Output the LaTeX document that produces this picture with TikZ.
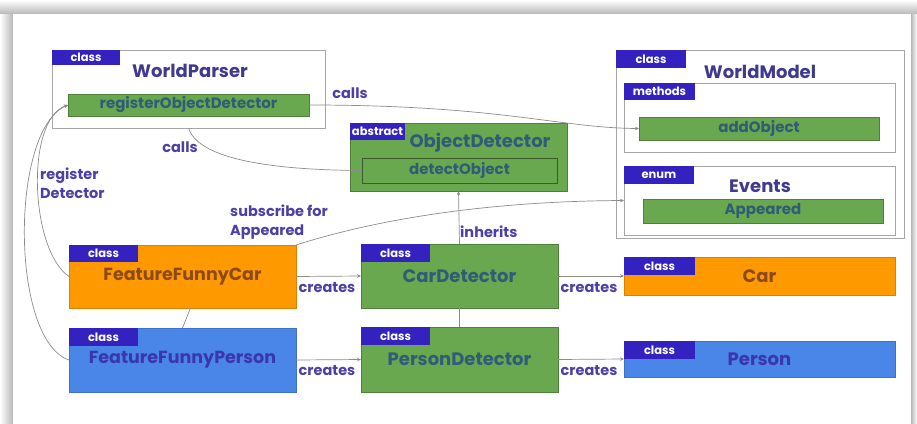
\documentclass[tikz,border=0pt]{standalone}
\usepackage{fontspec}
\setmainfont{Poppins}
\usepackage{tikz}
\usetikzlibrary{arrows.meta,positioning}

\definecolor{tagblue}{HTML}{3322C0}
\definecolor{ink}{HTML}{3F3A8E}
\definecolor{lblink}{HTML}{4B40A6}
\definecolor{grn}{HTML}{6AA84F}
\definecolor{grnink}{HTML}{2F5C78}
\definecolor{org}{HTML}{FF9900}
\definecolor{orgink}{HTML}{8C4A1A}
\definecolor{blu}{HTML}{4A86E8}
\definecolor{bluink}{HTML}{3A36B0}

\begin{document}
\begin{tikzpicture}[x=1pt,y=-1pt,
    box/.style={rectangle,inner sep=0pt,outer sep=0pt},
    outerbox/.style={box,draw=black!35,line width=0.8pt},
    greenbox/.style={box,fill=grn,draw=grn!75!black,text=grnink,font=\fontsize{15}{17}\selectfont\bfseries},
    orangebox/.style={box,fill=org,draw=org!85!black,text=orgink,font=\fontsize{17.5}{20}\selectfont\bfseries},
    bluebox/.style={box,fill=blu,draw=blu!85!black,text=bluink,font=\fontsize{17.5}{20}\selectfont\bfseries},
    tagbox/.style={box,anchor=north west,fill=tagblue,text=white,minimum width=69pt,minimum height=17pt,font=\fontsize{11.5}{13}\selectfont\bfseries},
    titletext/.style={text=ink,font=\fontsize{18}{21}\selectfont\bfseries},
    lbl/.style={text=lblink,font=\fontsize{14.5}{19}\selectfont\bfseries,align=left,inner sep=0pt},
    conn/.style={draw=black!45,line width=0.7pt},
    arr/.style={conn,-{Stealth[length=4pt,width=3.5pt]}}]
  % card with its shadow
  \useasboundingbox (0,0) rectangle (917,423);
  \fill[white] (0,0) rectangle (917,423);
  \shade[top color=white,bottom color=black!28] (0,0) rectangle (917,14);
  \shade[left color=white,right color=black!28] (0,14) rectangle (13,423);
  \shade[left color=black!28,right color=white] (911,14) rectangle (917,423);
  \fill[white] (13,14) rectangle (911,423);

  % WorldParser
  \node[outerbox,minimum width=273pt,minimum height=78pt] (wp) at (188.5,89) {};
  \node[tagbox,minimum width=68pt,minimum height=15pt] (wptag) at (wp.north west) {class};
  \node[titletext] (wptitle) at (190,71) {WorldParser};
  \node[greenbox,minimum width=241pt,minimum height=22pt] (reg) at (188.5,105) {registerObjectDetector};

  % ObjectDetector
  \node[greenbox,minimum width=217pt,minimum height=68pt] (od) at (458.5,157) {};
  \node[tagbox,minimum width=55pt] (odtag) at (od.north west) {abstract};
  \node[titletext,text=grnink] (odtitle) at (480,143) {ObjectDetector};
  \node[greenbox,draw=grn!55!black,minimum width=195pt,minimum height=25pt] (detect) at (459.5,170.5) {detectObject};

  % WorldModel
  \node[outerbox,minimum width=288pt,minimum height=188pt] (wm) at (760,144) {};
  \node[tagbox,minimum width=70pt,minimum height=18pt] (wmtag) at (wm.north west) {class};
  \node[titletext] (wmtitle) at (760,72) {WorldModel};
  \node[outerbox,minimum width=271pt,minimum height=69pt] (meth) at (759.5,117.5) {};
  \node[tagbox,minimum width=71pt] (methtag) at (meth.north west) {methods};
  \node[greenbox,minimum width=240pt,minimum height=23pt] (add) at (759,128.5) {addObject};
  \node[outerbox,minimum width=271pt,minimum height=69pt] (ev) at (759.5,200.5) {};
  \node[tagbox,minimum width=70pt,minimum height=18pt] (evtag) at (ev.north west) {enum};
  \node[titletext] (evtitle) at (760,186) {Events};
  \node[greenbox,minimum width=240pt,minimum height=24pt] (appeared) at (763,211) {Appeared};

  % features
  \node[orangebox,minimum width=227pt,minimum height=63pt] (ffc) at (182.5,276.5) {FeatureFunnyCar};
  \node[tagbox] (ffctag) at (ffc.north west) {class};
  \node[bluebox,minimum width=227pt,minimum height=64pt] (ffp) at (182.5,360) {FeatureFunnyPerson};
  \node[tagbox,minimum height=18pt] (ffptag) at (ffp.north west) {class};

  % detectors
  \node[greenbox,font=\fontsize{18}{21}\selectfont\bfseries,minimum width=197pt,minimum height=64pt] (cd) at (459.5,276) {CarDetector};
  \node[tagbox,minimum height=18pt] (cdtag) at (cd.north west) {class};
  \node[greenbox,font=\fontsize{18}{21}\selectfont\bfseries,minimum width=197pt,minimum height=65pt] (pd) at (459.5,359.5) {PersonDetector};
  \node[tagbox,minimum height=18pt] (pdtag) at (pd.north west) {class};

  % objects
  \node[orangebox,font=\fontsize{18}{21}\selectfont\bfseries,minimum width=271pt,minimum height=38pt] (car) at (759.5,276) {Car};
  \node[tagbox,minimum width=71pt,minimum height=18pt] (cartag) at (car.north west) {class};
  \node[bluebox,font=\fontsize{18}{21}\selectfont\bfseries,minimum width=271pt,minimum height=36pt] (person) at (759.5,359) {Person};
  \node[tagbox,minimum width=71pt,minimum height=18pt] (persontag) at (person.north west) {class};

  % connectors
  \draw[arr] (reg.east) .. controls (500,105) and (560,128) .. (add.west);
  \draw[arr] (wp.south) .. controls (200,165) and (300,170) .. (detect.west);
  \draw[arr] (ffc.west) .. controls (30,250) and (25,120) .. (reg.west);
  \draw[arr] (ffp.west) .. controls (10,340) and (10,130) .. (reg.west);
  \draw[arr] (ffc.north east) .. controls (400,212) and (520,201) .. (ev.west);
  \draw[conn] ([xshift=8pt]ffc.south) -- (ffp.north);
  \draw[arr] (ffc.east) -- (cd.west);
  \draw[arr] (ffp.east) -- (pd.west);
  \draw[arr] (cd.east) -- (car.west);
  \draw[arr] (pd.east) -- (person.west);
  \draw[arr] (cd.north) -- (od.south);
  \draw[conn] (pd.north) -- (cd.south);

  % labels
  \node[lbl] (calls1) at (350,93) {calls};
  \node[lbl] (calls2) at (180,147) {calls};
  \node[lbl,anchor=west] (regdet) at (40,183) {register\\Detector};
  \node[lbl,anchor=west] (subs) at (230,222) {subscribe for\\Appeared};
  \node[lbl,anchor=west] (inh) at (460,232) {inherits};
  \node[lbl] (cr1) at (327,288) {creates};
  \node[lbl] (cr2) at (327,371) {creates};
  \node[lbl] (cr3) at (589,288) {creates};
  \node[lbl] (cr4) at (589,371) {creates};
\end{tikzpicture}
\end{document}
